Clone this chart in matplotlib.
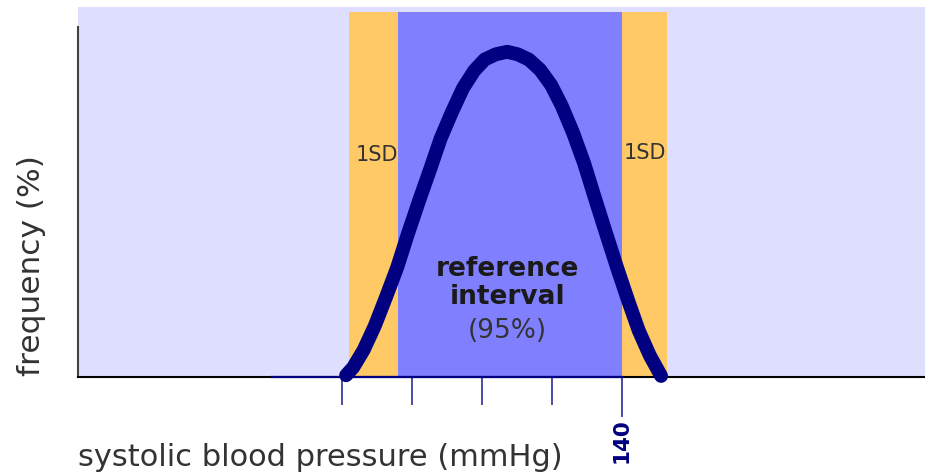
#!/usr/bin/env python3
"""Schematic of a blood pressure reference interval."""
import matplotlib

matplotlib.use("Agg")
import matplotlib.pyplot as plt

# systolic blood pressure (mmHg) vs relative frequency
PRESSURE = [100.6, 101.6, 103.1, 104.7, 106.3, 107.9, 109.4, 111.0, 112.6,
            114.1, 115.7, 117.3, 118.9, 120.4, 122.0, 123.6, 125.1, 126.7,
            128.3, 129.9, 131.4, 133.0, 134.6, 136.1, 137.7, 139.3, 140.9,
            142.4, 144.0, 145.6]
FREQUENCY = [0.5, 2.7, 7.7, 14.6, 22.8, 31.3, 40.7, 50.2, 59.3,
             68.1, 75.6, 82.5, 87.5, 90.7, 92.2, 92.9, 92.2, 90.7,
             87.8, 83.4, 77.5, 69.9, 61.1, 51.4, 41.3, 31.3, 21.8,
             13.3, 6.1, 0.3]

TICKS = [100, 110, 120, 130, 140]
LABELLED_TICK = [140]
TICK_LABELS = ["140"]

SD_BANDS = [(101.0, 108.0), (140.0, 146.5)]
REFERENCE_INTERVAL = (108.0, 140.0)
AXIS_SEGMENT = (90.0, 140.0)

LAVENDER = "#dedeff"
ORANGE = "#ffc966"
BLUE = "#8080ff"
NAVY = "#000080"
TEXT = "#333333"

W, H = 925, 475
fig = plt.figure(figsize=(W / 100, H / 100), dpi=100)
fig.patch.set_facecolor("white")

# axes box in pixels: x 78..925, baseline at y=377, top at y=7
ax = fig.add_axes([78 / W, (H - 377) / H, (W - 78) / W, 370 / H])
ax.set_facecolor(LAVENDER)
ax.set_xlim(62.3, 183.3)
ax.set_ylim(0, 105.7)

band_top = 104.3 / 105.7
for lo, hi in SD_BANDS:
    ax.axvspan(lo, hi, ymin=0, ymax=band_top, color=ORANGE, lw=0, zorder=1)
ax.axvspan(*REFERENCE_INTERVAL, ymin=0, ymax=band_top, color=BLUE, lw=0, zorder=1)

ax.plot(PRESSURE, FREQUENCY, color=NAVY, lw=10, solid_capstyle="round",
        solid_joinstyle="round", zorder=4, clip_on=False)

ax.plot(AXIS_SEGMENT, [0, 0], color=NAVY, lw=1.6, zorder=3, clip_on=False)

for side in ("top", "right"):
    ax.spines[side].set_visible(False)
ax.spines["left"].set_color("#444444")
ax.spines["left"].set_linewidth(1.5)
ax.spines["left"].set_bounds(0, 100)
ax.spines["bottom"].set_color("black")
ax.spines["bottom"].set_linewidth(1.5)

ax.set_yticks([])
ax.xaxis.remove_overlapping_locs = False
ax.set_xticks(TICKS, [""] * len(TICKS))
ax.set_xticks(LABELLED_TICK, TICK_LABELS, minor=True)
ax.tick_params(axis="x", which="major", direction="out", length=20, width=1.4,
               color="#4d4da6")
ax.tick_params(axis="x", which="minor", direction="out", length=29, width=1.4,
               color="#4d4da6", labelrotation=90, pad=1, labelsize=15.5,
               labelcolor=NAVY)
for label in ax.get_xticklabels(minor=True):
    label.set_fontweight("bold")

ax.text(108.0, 63.4, "1SD", ha="right", va="center", fontsize=15, color=TEXT,
        zorder=5)
ax.text(140.3, 64.0, "1SD", ha="left", va="center", fontsize=15, color=TEXT,
        zorder=5)
ax.text(123.7, 26.9, "reference\ninterval", ha="center", va="center",
        fontsize=19, fontweight="bold", color="#1a1a1a", linespacing=1.1,
        zorder=5)
ax.text(123.7, 13.1, "(95%)", ha="center", va="center", fontsize=19,
        color=TEXT, zorder=5)

fig.text(78 / W, 9 / H, "systolic blood pressure (mmHg)", ha="left",
         va="baseline", fontsize=22, color=TEXT)
fig.text(32 / W, (H - 266) / H, "frequency (%)", rotation=90, ha="center",
         va="center", fontsize=22.5, color=TEXT)

fig.savefig("out.png", dpi=100)
